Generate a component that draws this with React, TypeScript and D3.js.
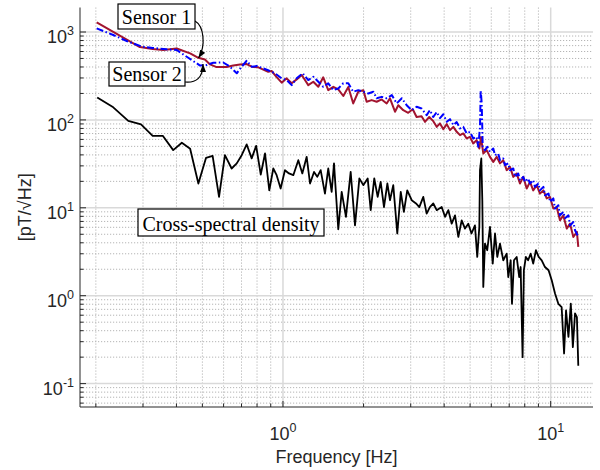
import React from 'react';
import * as d3 from 'd3';

// [frequency Hz, amplitude pT/sqrt(Hz)]
const sensor1: [number, number][] = [
  [0.2014, 1283], [0.292, 674], [0.326, 640], [0.357, 624], [0.401, 649], [0.45, 572], [0.483, 509], [0.511, 486],
  [0.534, 428], [0.565, 399], [0.616, 399], [0.652, 415], [0.691, 426], [0.732, 432], [0.764, 403], [0.809, 396],
  [0.844, 374], [0.881, 353], [0.907, 360], [0.947, 307], [0.989, 265], [1.032, 297], [1.078, 261], [1.125, 289],
  [1.175, 324], [1.208, 284], [1.243, 249], [1.298, 272], [1.355, 238], [1.414, 305], [1.476, 218], [1.542, 238],
  [1.609, 222], [1.68, 187], [1.754, 237], [1.83, 154], [1.911, 209], [1.995, 218], [2.054, 161], [2.144, 168],
  [2.239, 161], [2.337, 171], [2.44, 154], [2.51, 176], [2.621, 124], [2.696, 147], [2.814, 129], [2.936, 120.5],
  [3.053, 132], [3.156, 108], [3.293, 110], [3.391, 95.1], [3.519, 108], [3.643, 96.8], [3.752, 83.4], [3.859, 91.2],
  [3.972, 78.5], [4.091, 89.6], [4.206, 76.5], [4.328, 83.4], [4.456, 73.2], [4.585, 67.1], [4.716, 70.2], [4.856, 61.5],
  [4.994, 64.2], [5.138, 54], [5.289, 58.9], [5.413, 47.3], [5.491, 63.7], [5.601, 41.5], [5.765, 45.3], [5.933, 38],
  [6.104, 33.3], [6.285, 38], [6.466, 32], [6.652, 34.8], [6.849, 26.8], [7.047, 29.2], [7.25, 22.5], [7.464, 24.6],
  [7.677, 18.9], [7.899, 22.5], [8.137, 16.6], [8.37, 19.7], [8.604, 15.8], [8.865, 18.1], [9.12, 14.5], [9.393, 15.8],
  [9.663, 12.8], [9.94, 13.3], [10.23, 9.82], [10.53, 10.2], [10.83, 7.2], [11.15, 8.2], [11.48, 5.8], [11.81, 6.6],
  [12.15, 4.66], [12.53, 5.32], [12.68, 3.59],
];

const sensor2: [number, number][] = [
  [0.2014, 1100], [0.2323, 924], [0.2643, 776], [0.2965, 684], [0.326, 658], [0.368, 635], [0.401, 624], [0.437, 523],
  [0.462, 468], [0.49, 415], [0.519, 421], [0.549, 447], [0.598, 450], [0.634, 403], [0.672, 339], [0.701, 403],
  [0.732, 471], [0.764, 403], [0.798, 410], [0.844, 386], [0.889, 362], [0.934, 339], [0.989, 297], [1.032, 284],
  [1.078, 249], [1.125, 297], [1.185, 339], [1.243, 284], [1.298, 310], [1.355, 272], [1.414, 238], [1.476, 261],
  [1.542, 218], [1.609, 228], [1.68, 261], [1.754, 261], [1.83, 209], [1.911, 218], [1.995, 209], [2.083, 200],
  [2.175, 209], [2.239, 176], [2.337, 183], [2.44, 176], [2.55, 192], [2.659, 154], [2.779, 176], [2.898, 147],
  [3.026, 129], [3.156, 141], [3.293, 135], [3.441, 113], [3.538, 129], [3.643, 108], [3.752, 123], [3.859, 105],
  [3.972, 116], [4.091, 95.1], [4.206, 102], [4.328, 87.3], [4.456, 94.4], [4.585, 80], [4.716, 83.4], [4.856, 70.2],
  [4.994, 73.2], [5.138, 61.5], [5.289, 64.2], [5.366, 49.4], [5.444, 83.4], [5.478, 218], [5.525, 154], [5.573, 49.4],
  [5.683, 45.3], [5.795, 49.4], [5.933, 43.3], [6.104, 47.3], [6.195, 39.7], [6.367, 41.5], [6.466, 34.8], [6.652, 36.4],
  [6.75, 30.6], [6.943, 32], [7.047, 26.8], [7.25, 28], [7.357, 22.5], [7.564, 24.6], [7.677, 20.6], [7.899, 22.5],
  [8.017, 19.7], [8.236, 21.6], [8.37, 18.9], [8.604, 20.6], [8.736, 17.3], [8.99, 18.9], [9.12, 15.8], [9.393, 17.3],
  [9.521, 13.9], [9.82, 14.5], [9.94, 11.7], [10.23, 12.8], [10.38, 9.8], [10.68, 10.7], [10.83, 8.2], [11.15, 9.0],
  [11.31, 7.6], [11.65, 8.2], [11.81, 6.3], [12.15, 6.9], [12.33, 5.56], [12.68, 4.66],
];

const crossSpectral: [number, number][] = [
  [0.2024, 180], [0.2323, 139], [0.2643, 97.7], [0.295, 88.9], [0.326, 65.9], [0.3556, 65.9], [0.389, 45.3], [0.419, 54.9],
  [0.45, 46.9], [0.483, 18.9], [0.516, 37], [0.546, 39], [0.577, 13.3], [0.607, 39.7], [0.643, 28], [0.672, 32],
  [0.701, 39.7], [0.732, 52.6], [0.764, 36.5], [0.794, 50.7], [0.826, 23.9], [0.857, 41.5], [0.889, 15.8], [0.92, 28],
  [0.947, 23.5], [0.98, 16.6], [1.017, 26.8], [1.053, 24.6], [1.093, 23.5], [1.141, 34.8], [1.181, 24.6], [1.226, 38],
  [1.262, 18.9], [1.306, 25.6], [1.343, 22.5], [1.383, 26.8], [1.435, 14.5], [1.476, 28], [1.52, 15.2], [1.551, 32],
  [1.609, 5.7], [1.657, 15.2], [1.719, 7.9], [1.79, 25.6], [1.858, 6.3], [1.929, 21.6], [1.995, 18.1], [2.072, 21.6],
  [2.127, 9.4], [2.193, 21.6], [2.258, 13.3], [2.317, 19.7], [2.384, 10.2], [2.454, 18.9], [2.51, 12.2], [2.582, 18.1],
  [2.673, 5.1], [2.754, 15.2], [2.829, 9.0], [2.912, 15.8], [3.026, 12.2], [3.14, 11.2], [3.23, 10.2], [3.343, 13.3],
  [3.441, 8.6], [3.538, 10.2], [3.643, 11.2], [3.752, 9.4], [3.916, 10.2], [4.031, 7.9], [4.147, 9.4], [4.268, 6.6],
  [4.392, 8.2], [4.518, 4.66], [4.651, 7.2], [4.785, 5.8], [4.922, 6.6], [5.061, 5.1], [5.213, 6.3], [5.317, 2.76],
  [5.413, 6.06], [5.444, 26.8], [5.506, 36.4], [5.554, 12.2], [5.601, 1.26], [5.683, 3.92], [5.795, 3.29], [5.933, 6.06],
  [6.074, 2.32], [6.195, 5.1], [6.317, 2.76], [6.466, 3.92], [6.652, 2.53], [6.849, 3.01], [6.943, 1.63], [7.089, 2.53],
  [7.169, 0.81], [7.294, 2.53], [7.464, 2.76], [7.629, 1.63], [7.722, 2.12], [7.853, 0.2], [7.941, 1.95], [8.079, 2.76],
  [8.236, 2.53], [8.419, 3.01], [8.604, 2.32], [8.81, 3.29], [9.02, 2.76], [9.257, 2.53], [9.521, 2.12], [9.82, 1.95],
  [10.09, 1.5], [10.38, 1.06], [10.68, 0.81], [10.99, 0.74], [11.22, 0.22], [11.41, 0.68], [11.65, 0.34], [11.89, 0.81],
  [12.1, 0.26], [12.33, 0.63], [12.53, 0.57], [12.68, 0.16],
];

const xMajorTicks = [1, 10];
const xTickExponents = ['0', '1'];
const yMajorTicks = [0.1, 1, 10, 100, 1000];
const yTickExponents = ['-1', '0', '1', '2', '3'];

const annotations = [
  { label: 'Sensor 1', x: 118, y: 4, w: 77, h: 25 },
  { label: 'Sensor 2', x: 109, y: 62, w: 76, h: 24 },
  { label: 'Cross-spectral density', x: 138, y: 209, w: 186, h: 27 },
];

const LEFT = 80, RIGHT = 593, TOP = 7.5, BOTTOM = 407;
const AXIS = '#262626';
const SANS = '"Liberation Sans", Arial, Helvetica, sans-serif';
const SERIF = '"Liberation Serif", "Times New Roman", serif';

const isMajor = (t: number) => Math.abs(Math.log10(t) - Math.round(Math.log10(t))) < 1e-6;

export default function App() {
  const x = d3.scaleLog().domain([0.1745, 14.39]).range([LEFT, RIGHT]);
  const y = d3.scaleLog().domain([0.0542, 1900]).range([BOTTOM, TOP]);

  const line = d3
    .line<[number, number]>()
    .x((d) => x(d[0]))
    .y((d) => y(d[1]));

  const xt = x.ticks();
  const yt = y.ticks();

  return (
    <svg width={600} height={470} style={{ position: 'absolute', left: 0, top: 0, background: '#fff' }}>
      <defs>
        <marker id="arr" viewBox="0 0 8 6" refX="8" refY="3" markerWidth="8" markerHeight="6" markerUnits="userSpaceOnUse" orient="auto">
          <path d="M0,0 L8,3 L0,6 z" fill="#000" />
        </marker>
      </defs>
      <rect x={0} y={0} width={600} height={470} fill="#fff" />
      {/* minor grid */}
      {xt.filter((t) => !isMajor(t)).map((t, i) => (
        <line key={'xm' + i} x1={x(t)} x2={x(t)} y1={TOP} y2={BOTTOM} stroke="#b5b5b5" strokeWidth={1} strokeDasharray="1.2,1.8" />
      ))}
      {yt.filter((t) => !isMajor(t)).map((t, i) => (
        <line key={'ym' + i} x1={LEFT} x2={RIGHT} y1={y(t)} y2={y(t)} stroke="#b5b5b5" strokeWidth={1} strokeDasharray="1.2,1.8" />
      ))}
      {/* major grid */}
      {xMajorTicks.map((t, i) => (
        <line key={'xg' + i} x1={x(t)} x2={x(t)} y1={TOP} y2={BOTTOM} stroke="#d9d9d9" strokeWidth={1.5} />
      ))}
      {yMajorTicks.map((t, i) => (
        <line key={'yg' + i} x1={LEFT} x2={RIGHT} y1={y(t)} y2={y(t)} stroke="#d9d9d9" strokeWidth={1.5} />
      ))}

      {/* data */}
      <path d={line(crossSpectral) || ''} fill="none" stroke="#000" strokeWidth={1.8} strokeLinejoin="round" />
      <path d={line(sensor1) || ''} fill="none" stroke="#A2142F" strokeWidth={2} strokeLinejoin="round" />
      <path d={line(sensor2) || ''} fill="none" stroke="#0000FF" strokeWidth={2} strokeDasharray="7,2.5,1.5,2.5" strokeLinejoin="round" />

      {/* axes */}
      <line x1={LEFT} x2={LEFT} y1={TOP} y2={BOTTOM} stroke={AXIS} strokeWidth={1} />
      <line x1={LEFT} x2={RIGHT} y1={BOTTOM} y2={BOTTOM} stroke={AXIS} strokeWidth={1} />
      {xt.map((t, i) => (
        <line key={'xt' + i} x1={x(t)} x2={x(t)} y1={BOTTOM} y2={BOTTOM - (isMajor(t) ? 6 : 3.5)} stroke={AXIS} strokeWidth={1} />
      ))}
      {yt.map((t, i) => (
        <line key={'yt' + i} x1={LEFT} x2={LEFT + (isMajor(t) ? 6 : 3.5)} y1={y(t)} y2={y(t)} stroke={AXIS} strokeWidth={1} />
      ))}
      {xMajorTicks.map((t, i) => (
        <text key={'xl' + i} x={x(t)} y={440} textAnchor="middle" fontFamily={SANS} fontSize={18} fill={AXIS}>
          10<tspan dy={-8} fontSize={12.5}>{xTickExponents[i]}</tspan>
        </text>
      ))}
      {yMajorTicks.map((t, i) => (
        <text key={'yl' + i} x={74} y={y(t) + 11} textAnchor="end" fontFamily={SANS} fontSize={18} fill={AXIS}>
          10<tspan dy={-8} fontSize={12.5}>{yTickExponents[i]}</tspan>
        </text>
      ))}
      <text x={(LEFT + RIGHT) / 2} y={463} textAnchor="middle" fontFamily={SANS} fontSize={18} fill={AXIS}>
        Frequency [Hz]
      </text>
      <text transform={`translate(31,${(TOP + BOTTOM) / 2}) rotate(-90)`} textAnchor="middle" fontFamily={SANS} fontSize={18} fill={AXIS}>
        [pT/√Hz]
      </text>

      {/* annotations */}
      <path d="M195,21 C204,26 206,46 198.5,58" fill="none" stroke="#000" strokeWidth={1.2} markerEnd="url(#arr)" />
      <path d="M185,82 C196,83 203,78 203,64" fill="none" stroke="#000" strokeWidth={1.2} markerEnd="url(#arr)" />
      {annotations.map((a, i) => (
        <g key={'an' + i}>
          <rect x={a.x} y={a.y} width={a.w} height={a.h} fill="#fff" stroke="#000" strokeWidth={1.2} />
          <text x={a.x + a.w / 2} y={a.y + a.h - 5} textAnchor="middle" fontFamily={SERIF} fontSize={20} fill="#000">
            {a.label}
          </text>
        </g>
      ))}
    </svg>
  );
}
